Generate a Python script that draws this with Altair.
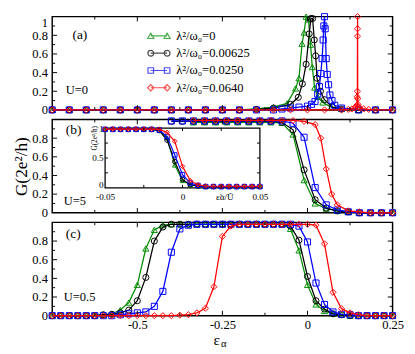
import altair as alt
import pandas as pd

FONT = "Liberation Serif"
COLORS = ["#008B00", "#000000", "#0000FF", "#FF0000"]
SHAPES = ["triangle-up", "circle", "square", "diamond"]
LABELS = ["λ²/ω₀=0", "λ²/ω₀=0.00625", "λ²/ω₀=0.0250", "λ²/ω₀=0.0640"]
PANEL_TAGS = ["(a)", "(b)", "(c)"]
U_TAGS = ["U=0", "U=5", "U=0.5"]
XTITLE = ["ε", "α"]

X_DOMAIN = [-0.75, 0.25]
Y_DOMAIN = [0, 1]
X_LABELS = [-0.5, -0.25, 0, 0.25]
Y_LABELS_A = [0, 0.2, 0.4, 0.6, 0.8, 1]
Y_LABELS_BC = [0, 0.2, 0.4, 0.6, 0.8]
X_MAJOR_TICKS = [-0.5, -0.25, 0]
X_MINOR_TICKS = [-0.625, -0.375, -0.125, 0.125]
Y_MAJOR_TICKS = [0.2, 0.4, 0.6, 0.8]
Y_MINOR_TICKS = [0.1, 0.3, 0.5, 0.7, 0.9]

# ---------------- panel (a): U=0 ----------------
A_GREEN_X = [-0.75, -0.7, -0.65, -0.6, -0.55, -0.5, -0.45, -0.4, -0.35, -0.3, -0.25, -0.2,
             -0.15, -0.1, -0.06, -0.035, -0.025, -0.016, -0.01, -0.004,
             0.003, 0.009, 0.014, 0.021, 0.03, 0.045, 0.07, 0.1, 0.15, 0.2, 0.25]
A_GREEN_Y = [0, 0, 0, 0, 0, 0, 0, 0, 0, 0, 0, 0,
             0.01, 0.03, 0.07, 0.23, 0.34, 0.71, 0.83, 1.0,
             0.97, 0.70, 0.46, 0.24, 0.14, 0.08, 0.03, 0.01, 0, 0, 0]
A_BLACK_X = [-0.75, -0.7, -0.65, -0.6, -0.55, -0.5, -0.45, -0.4, -0.35, -0.3, -0.25, -0.2,
             -0.15, -0.1, -0.05, -0.027, -0.015, -0.004, 0.005, 0.01, 0.015, 0.02, 0.024,
             0.028, 0.038, 0.05, 0.073, 0.1, 0.15, 0.2, 0.25]
A_BLACK_Y = [0, 0, 0, 0, 0, 0, 0, 0, 0, 0, 0, 0,
             0.005, 0.02, 0.06, 0.135, 0.28, 0.49, 0.815, 0.98, 0.98, 0.75, 0.58,
             0.34, 0.20, 0.11, 0.03, 0.01, 0, 0, 0]
A_BLUE_X = [-0.75, -0.7, -0.65, -0.6, -0.55, -0.5, -0.45, -0.4, -0.35, -0.3, -0.25, -0.2, -0.15, -0.1,
            -0.075, -0.05, -0.025, 0.0, 0.012, 0.022, 0.03, 0.035, 0.039, 0.043, 0.046, 0.048,
            0.05, 0.052, 0.055, 0.058, 0.062, 0.066, 0.072, 0.08, 0.1, 0.15, 0.2, 0.25]
A_BLUE_Y = [0, 0, 0, 0, 0, 0, 0, 0, 0, 0, 0, 0, 0, 0,
            0.01, 0.02, 0.03, 0.04, 0.06, 0.09, 0.17, 0.25, 0.39, 0.55, 0.75, 0.9,
            1.0, 0.87, 0.55, 0.38, 0.27, 0.16, 0.1, 0.05, 0.02, 0, 0, 0]
A_RED_X = [-0.75, -0.7, -0.65, -0.6, -0.55, -0.5, -0.45, -0.4, -0.35, -0.3, -0.25, -0.2,
           -0.15, -0.1, -0.05, 0.0, 0.05, 0.1,
           0.12, 0.13, 0.138, 0.142, 0.145, 0.1462, 0.1466, 0.1468, 0.147, 0.1472,
           0.1476, 0.148, 0.15, 0.155, 0.165, 0.18, 0.2, 0.25]
A_RED_Y = [0, 0, 0, 0, 0, 0, 0, 0, 0, 0, 0, 0,
           0, 0, 0, 0, 0, 0,
           0.005, 0.01, 0.02, 0.03, 0.05, 0.14, 0.2, 0.79, 0.87, 1.0,
           0.12, 0.06, 0.03, 0.02, 0.01, 0.005, 0, 0]

# ---------------- panel (b): U=5 ----------------
B_GREEN_X = [-0.335, -0.3025, -0.27, -0.2375, -0.205, -0.1725, -0.14, -0.1075,
             -0.075, -0.0425, -0.01, 0.0225, 0.055, 0.0875, 0.12, 0.1525, 0.185, 0.2175, 0.25]
B_GREEN_Y = [0.97, 0.97, 0.97, 0.97, 0.97, 0.97, 0.97, 0.97,
             0.965, 0.84, 0.35, 0.10, 0.045, 0.02, 0.01, 0, 0, 0, 0]
B_BLACK_X = [-0.4, -0.3675, -0.335, -0.3025, -0.27, -0.2375, -0.205, -0.1725, -0.14, -0.1075,
             -0.075, -0.0425, -0.01, 0.0225, 0.055, 0.0875, 0.12, 0.1525, 0.185, 0.2175, 0.25]
B_BLACK_Y = [0.98, 0.98, 0.98, 0.98, 0.98, 0.98, 0.98, 0.98, 0.98, 0.98,
             0.97, 0.89, 0.46, 0.14, 0.05, 0.02, 0.01, 0, 0, 0, 0]
B_BLUE_X = [-0.4, -0.3675, -0.335, -0.3025, -0.27, -0.2375, -0.205, -0.1725, -0.14, -0.1075,
            -0.075, -0.0425, -0.01, 0.0225, 0.055, 0.0875, 0.12, 0.1525, 0.185, 0.2175, 0.25]
B_BLUE_Y = [0.985, 0.985, 0.985, 0.985, 0.985, 0.985, 0.985, 0.985, 0.985, 0.985,
            0.985, 0.96, 0.81, 0.27, 0.085, 0.03, 0.01, 0, 0, 0, 0]
B_RED_X = [-0.335, -0.3025, -0.27, -0.2375, -0.205, -0.1725, -0.14, -0.1075, -0.075, -0.0425,
           -0.01, 0.0225, 0.039, 0.055, 0.071, 0.0875, 0.12, 0.1525, 0.185, 0.2175, 0.25]
B_RED_Y = [0.99, 0.99, 0.99, 0.99, 0.99, 0.99, 0.99, 0.99, 0.99, 0.99,
           0.98, 0.946, 0.80, 0.47, 0.20, 0.085, 0.02, 0.01, 0, 0, 0]

# inset of panel (b): G versus eps/U
I_X = [-0.05, -0.045, -0.04, -0.035, -0.03, -0.025, -0.02, -0.015, -0.01, -0.005, 0,
       0.005, 0.01, 0.015, 0.02, 0.025, 0.03, 0.035, 0.04, 0.045, 0.05]
I_GREEN_Y = [0.98, 0.98, 0.98, 0.98, 0.98, 0.98, 0.98, 0.96, 0.84, 0.38, 0.12,
             0.05, 0.03, 0.02, 0.02, 0.02, 0.02, 0.02, 0.02, 0.02, 0.02]
I_BLACK_Y = [0.98, 0.98, 0.98, 0.98, 0.98, 0.98, 0.98, 0.96, 0.80, 0.44, 0.14,
             0.05, 0.03, 0.02, 0.02, 0.02, 0.02, 0.02, 0.02, 0.02, 0.02]
I_BLUE_Y = [0.98, 0.98, 0.98, 0.98, 0.98, 0.98, 0.98, 0.97, 0.86, 0.55, 0.22,
            0.08, 0.04, 0.02, 0.02, 0.02, 0.02, 0.02, 0.02, 0.02, 0.02]
I_RED_Y = [0.985, 0.985, 0.985, 0.985, 0.985, 0.985, 0.985, 0.98, 0.93, 0.78, 0.36,
           0.12, 0.05, 0.03, 0.025, 0.025, 0.025, 0.025, 0.025, 0.025, 0.025]
I_X_DOMAIN = [-0.05, 0.05]
I_X_LABELS = [-0.05, 0, 0.05]
I_Y_LABELS = [0, 0.5, 1]
I_X_TICKS = [-0.025, 0, 0.025]
I_Y_TICKS = [0.25, 0.5, 0.75]
I_TITLES = ["ε̃α/Ũ", "G(2e²/h)"]

# ---------------- panel (c): U=0.5 ----------------
C_X = [-0.75, -0.725, -0.7, -0.675, -0.65, -0.625, -0.6, -0.575, -0.55, -0.525,
       -0.5, -0.475, -0.45, -0.425, -0.4, -0.375, -0.35, -0.325, -0.3, -0.275,
       -0.25, -0.225, -0.2, -0.175, -0.15, -0.125, -0.1, -0.075, -0.05, -0.025,
       0.0, 0.025, 0.05, 0.075, 0.1, 0.125, 0.15, 0.175, 0.2, 0.225, 0.25]
C_GREEN_Y = [0, 0, 0, 0, 0, 0, 0.01, 0.02, 0.06, 0.14,
             0.33, 0.72, 0.92, 0.97, 0.98, 0.98, 0.98, 0.98, 0.98, 0.98,
             0.98, 0.98, 0.98, 0.98, 0.98, 0.98, 0.98, 0.98, 0.93, 0.70,
             0.33, 0.12, 0.05, 0.02, 0.01, 0, 0, 0, 0, 0, 0]
C_BLACK_Y = [0, 0, 0, 0, 0, 0, 0.01, 0.015, 0.03, 0.06,
             0.16, 0.41, 0.80, 0.95, 0.98, 0.98, 0.98, 0.98, 0.98, 0.98,
             0.98, 0.98, 0.98, 0.98, 0.98, 0.98, 0.98, 0.98, 0.96, 0.81,
             0.42, 0.16, 0.07, 0.02, 0.01, 0, 0, 0, 0, 0, 0]
C_BLUE_Y = [0, 0, 0, 0, 0, 0, 0, 0, 0.01, 0.02,
            0.03, 0.04, 0.10, 0.26, 0.68, 0.93, 0.97, 0.98, 0.98, 0.98,
            0.98, 0.98, 0.98, 0.98, 0.98, 0.98, 0.98, 0.98, 0.98, 0.96,
            0.79, 0.35, 0.12, 0.04, 0.015, 0.01, 0, 0, 0, 0, 0]
C_RED_Y = [0, 0, 0, 0, 0, 0, 0, 0, 0, 0,
           0, 0, 0, 0, 0, 0.005, 0.01, 0.03, 0.08, 0.31,
           0.85, 0.96, 0.98, 0.98, 0.98, 0.98, 0.98, 0.98, 0.98, 0.98,
           0.98, 0.97, 0.77, 0.25, 0.075, 0.03, 0.01, 0, 0, 0, 0]

W, H = 354, 97


def tri(c):
    return f"M{c-0.32},0.277L{c},-0.277L{c+0.32},0.277Z"


def circ(c):
    return f"M{c-0.3},0A0.3,0.3 0 1,0 {c+0.3},0A0.3,0.3 0 1,0 {c-0.3},0Z"


def sq(c):
    return f"M{c-0.29},-0.29H{c+0.29}V0.29H{c-0.29}Z"


def dia(c):
    return f"M{c},-0.33L{c+0.33},0L{c},0.33L{c-0.33},0Z"


LINE = "M-0.85,0H0.85"
LEG_PATHS = [LINE + f(-0.85) + f(0.85) for f in (tri, circ, sq, dia)]

LBL = dict(labelFont=FONT, labelFontSize=13, labelColor="black")
BASE_COND = {"condition": {"test": "datum.value == 1", "value": "top"}, "value": "middle"}


def main_scales():
    return (alt.Scale(domain=X_DOMAIN, nice=False, zero=False),
            alt.Scale(domain=Y_DOMAIN, nice=False, zero=False))


def y_axis(values, title=None):
    kw = dict(values=values, labelExpr="'' + datum.value", ticks=False, domain=False,
              grid=False, labelPadding=5, orient="left", labelBaseline=BASE_COND, **LBL)
    if title:
        kw.update(title=title, titleFont=FONT, titleFontSize=18, titleFontWeight="normal",
                  titleColor="black", titlePadding=2)
    else:
        kw.update(title=None)
    return alt.Axis(**kw)


def x_axis():
    return alt.Axis(values=X_LABELS, labelExpr="'' + datum.value", ticks=False, domain=False,
                    grid=False, labelPadding=3, labelFlush=False, labelOverlap=False,
                    title=None, orient="bottom", **LBL)


def series_layers(xlists, ylists, X, Y, size, sw):
    out = []
    for k in range(4):
        df = pd.DataFrame({"x": xlists[k], "y": ylists[k], "i": list(range(len(xlists[k])))})
        base = alt.Chart(df).encode(x=X, y=Y)
        out.append(base.mark_line(color=COLORS[k], strokeWidth=sw).encode(order=alt.Order("i:Q")))
        out.append(base.mark_point(shape=SHAPES[k], color=COLORS[k], filled=False, size=size,
                                   strokeWidth=1, opacity=1))
    return out


def tick_layers(xs, ys, xaxis, yaxis):
    # inward ticks; they share the panel's axis definitions so the axes stay merged
    layers = []
    for vals, L in ((X_MAJOR_TICKS, 5), (X_MINOR_TICKS, 3)):
        ch = alt.Chart(pd.DataFrame({"t": vals})).mark_rule(color="black", strokeWidth=1)
        ex = alt.X("t:Q", scale=xs, axis=xaxis)
        layers.append(ch.encode(x=ex, y=alt.value(H), y2=alt.value(H - L)))
        layers.append(ch.encode(x=ex, y=alt.value(0), y2=alt.value(L)))
    for vals, L in ((Y_MAJOR_TICKS, 5), (Y_MINOR_TICKS, 3)):
        ch = alt.Chart(pd.DataFrame({"t": vals})).mark_rule(color="black", strokeWidth=1)
        ey = alt.Y("t:Q", scale=ys, axis=yaxis)
        layers.append(ch.encode(y=ey, x=alt.value(0), x2=alt.value(L)))
        layers.append(ch.encode(y=ey, x=alt.value(W), x2=alt.value(W - L)))
    return layers


def text_layer(txt, x, y, size, align="left", baseline="middle"):
    return alt.Chart(pd.DataFrame({"t": [txt]})).mark_text(
        font=FONT, fontSize=size, color="black", align=align, baseline=baseline
    ).encode(text="t:N", x=alt.value(x), y=alt.value(y))


# ---------- panel (a)
xs, ys = main_scales()
ya_axis = y_axis(Y_LABELS_A)
XA = alt.X("x:Q", scale=xs, axis=None)
YA = alt.Y("y:Q", scale=ys, axis=ya_axis)
leg_cfg = alt.Legend(orient="none", legendX=100, legendY=9, title=None, labelFont=FONT,
                     labelFontSize=13, labelColor="black", symbolSize=400,
                     symbolStrokeWidth=1.2, rowPadding=0, labelOffset=7, padding=0,
                     symbolFillColor="transparent")
legend_layer = alt.Chart(pd.DataFrame({"lab": LABELS})).mark_point(filled=False).encode(
    color=alt.Color("lab:N", scale=alt.Scale(domain=LABELS, range=COLORS), legend=leg_cfg),
    shape=alt.Shape("lab:N", scale=alt.Scale(domain=LABELS, range=LEG_PATHS), legend=leg_cfg),
).transform_filter("false")
pa = alt.layer(
    *series_layers([A_GREEN_X, A_BLACK_X, A_BLUE_X, A_RED_X],
                   [A_GREEN_Y, A_BLACK_Y, A_BLUE_Y, A_RED_Y], XA, YA, 40, 1.3),
    *tick_layers(xs, ys, None, ya_axis),
    text_layer(PANEL_TAGS[0], 21, 19, 14),
    text_layer(U_TAGS[0], 14, 76, 13),
    legend_layer,
).properties(width=W, height=H)

# ---------- panel (b)
xs, ys = main_scales()
yb_axis = y_axis(Y_LABELS_BC, "G(2e²/h)")
XB = alt.X("x:Q", scale=xs, axis=None)
YB = alt.Y("y:Q", scale=ys, axis=yb_axis)
main_b = alt.layer(
    *series_layers([B_GREEN_X, B_BLACK_X, B_BLUE_X, B_RED_X],
                   [B_GREEN_Y, B_BLACK_Y, B_BLUE_Y, B_RED_Y], XB, YB, 40, 1.3),
    *tick_layers(xs, ys, None, yb_axis),
    text_layer(PANEL_TAGS[1], 14, 11, 14),
    text_layer(U_TAGS[1], 12, 85, 13),
)

IX0, IX1, IY0, IY1 = 55, 216, 71, 9
IXS = alt.Scale(domain=I_X_DOMAIN, range=[IX0, IX1], nice=False, zero=False)
IYS = alt.Scale(domain=Y_DOMAIN, range=[IY0, IY1], nice=False, zero=False)
inset_xaxis = alt.Axis(orient="bottom", offset=-(H - IY0), values=I_X_LABELS,
                       labelExpr="'' + datum.value", ticks=False, domain=False, grid=False,
                       labelFont=FONT, labelFontSize=9.5, labelColor="black", labelPadding=4,
                       labelFlush=False, labelOverlap=False, title=I_TITLES[0],
                       titleFont=FONT, titleFontSize=9.5, titleFontWeight="normal",
                       titleColor="black", titleX=179, titleY=12, titleBaseline="alphabetic",
                       titleAlign="center")
inset_yaxis = alt.Axis(orient="left", offset=-IX0, values=I_Y_LABELS,
                       labelExpr="'' + datum.value", ticks=False, domain=False, grid=False,
                       labelFont=FONT, labelFontSize=9.5, labelColor="black", labelPadding=2,
                       labelOffset={"condition": {"test": "datum.value == 0", "value": -3},
                                    "value": 0},
                       labelFlush=False, labelOverlap=False, title=I_TITLES[1],
                       titleFont=FONT, titleFontSize=7.5, titleFontWeight="normal",
                       titleColor="black", titleX=-7, titleY=19, titleAngle=270,
                       titleBaseline="bottom", titleAlign="center")
IXE = alt.X("x:Q", scale=IXS, axis=inset_xaxis)
IYE = alt.Y("y:Q", scale=IYS, axis=inset_yaxis)
inset_frame = alt.Chart(pd.DataFrame({"a": [0]})).mark_rect(
    fill="white", stroke="black", strokeWidth=1.3
).encode(
    x=alt.X(datum=I_X_DOMAIN[0], type="quantitative", scale=IXS, axis=inset_xaxis),
    x2=alt.X2(datum=I_X_DOMAIN[1]),
    y=alt.Y(datum=Y_DOMAIN[0], type="quantitative", scale=IYS, axis=inset_yaxis),
    y2=alt.Y2(datum=Y_DOMAIN[1]),
)
itx = alt.Chart(pd.DataFrame({"t": I_X_TICKS})).mark_rule(color="black", strokeWidth=1)
ity = alt.Chart(pd.DataFrame({"t": I_Y_TICKS})).mark_rule(color="black", strokeWidth=1)
inset_ticks = [
    itx.encode(x=alt.X("t:Q", scale=IXS, axis=inset_xaxis), y=alt.value(IY0), y2=alt.value(IY0 - 3)),
    itx.encode(x=alt.X("t:Q", scale=IXS, axis=inset_xaxis), y=alt.value(IY1), y2=alt.value(IY1 + 3)),
    ity.encode(y=alt.Y("t:Q", scale=IYS, axis=inset_yaxis), x=alt.value(IX0), x2=alt.value(IX0 + 3)),
    ity.encode(y=alt.Y("t:Q", scale=IYS, axis=inset_yaxis), x=alt.value(IX1), x2=alt.value(IX1 - 3)),
]
inset_b = alt.layer(
    inset_frame,
    *series_layers([I_X, I_X, I_X, I_X], [I_GREEN_Y, I_BLACK_Y, I_BLUE_Y, I_RED_Y],
                   IXE, IYE, 22, 1.2),
    *inset_ticks,
)
pb = alt.layer(main_b, inset_b).resolve_scale(x="independent", y="independent").properties(
    width=W, height=H)

# ---------- panel (c)
xs, ys = main_scales()
xc_axis = x_axis()
yc_axis = y_axis(Y_LABELS_BC)
XC = alt.X("x:Q", scale=xs, axis=xc_axis)
YC = alt.Y("y:Q", scale=ys, axis=yc_axis)
pc = alt.layer(
    *series_layers([C_X, C_X, C_X, C_X], [C_GREEN_Y, C_BLACK_Y, C_BLUE_Y, C_RED_Y],
                   XC, YC, 40, 1.3),
    *tick_layers(xs, ys, xc_axis, yc_axis),
    text_layer(PANEL_TAGS[2], 14, 12, 14),
    text_layer(U_TAGS[2], 12, 78, 13),
    text_layer(XTITLE[0], 171, H + 30, 16, align="center", baseline="alphabetic"),
    text_layer(XTITLE[1], 178.5, H + 32.5, 11, align="center", baseline="alphabetic"),
).properties(width=W, height=H)

chart = alt.vconcat(pa, pb, pc, spacing=10, bounds="flush").properties(
    padding={"left": 4, "top": -4, "right": 2, "bottom": 0}
).configure(font=FONT).configure_view(stroke="black", strokeWidth=1.5).configure_axis(grid=False)

chart.save("out.html", embed_options={"renderer": "svg", "actions": False})
